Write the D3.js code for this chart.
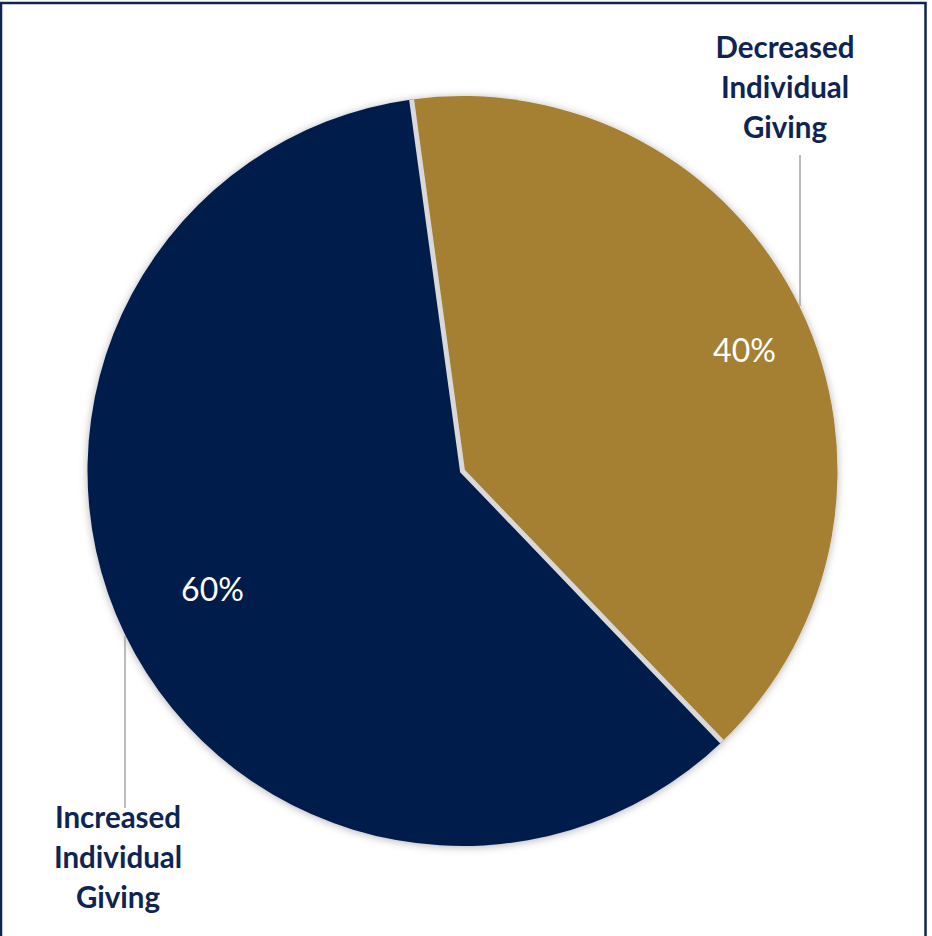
<!DOCTYPE html>
<html>
<head>
<meta charset="utf-8">
<script src="https://cdn.jsdelivr.net/npm/d3@7"></script>
<style>
  html, body { margin: 0; padding: 0; background: #fff; }
  svg { display: block; }
</style>
</head>
<body>
<svg id="chart"></svg>
<script>
// chart data
var categories = ["Decreased Individual Giving", "Increased Individual Giving"];
var values = [40, 60];
var pct_labels = ["40%", "60%"];
var colors = ["#A57F32", "#001C4C"];

var width = 932, height = 936;
var cx = 462.5, cy = 471, radius = 375;
var start = -7.8 * Math.PI / 180;

var svg = d3.select("#chart")
    .attr("width", width)
    .attr("height", height);

// frame border (top, left, right)
svg.append("path")
    .attr("d", "M1,936 V3 H925.5 V936")
    .attr("fill", "none")
    .attr("stroke", "#0e2452")
    .attr("stroke-width", 2.5);

var defs = svg.append("defs");
var shadow = defs.append("filter")
    .attr("id", "shadow")
    .attr("x", "-10%").attr("y", "-10%")
    .attr("width", "120%").attr("height", "120%");
shadow.append("feDropShadow")
    .attr("dx", 0).attr("dy", 1)
    .attr("stdDeviation", 4)
    .attr("flood-color", "#000")
    .attr("flood-opacity", 0.3);

var pie = d3.pie()
    .sort(null)
    .value(function(d){ return d; })
    .startAngle(start)
    .endAngle(start + 2 * Math.PI);

var arcs = pie(values);
var arc = d3.arc().innerRadius(0).outerRadius(radius);

var g = svg.append("g").attr("transform", "translate(" + cx + "," + cy + ")");

g.append("g")
    .attr("filter", "url(#shadow)")
    .selectAll("path")
    .data(arcs)
    .enter().append("path")
    .attr("d", arc)
    .attr("fill", function(d, i){ return colors[i]; });

// separator between slices
function rim(a){ return [Math.sin(a) * radius, -Math.cos(a) * radius]; }
var sep = [rim(arcs[0].startAngle), [0, 0], rim(arcs[0].endAngle)];
g.append("path")
    .attr("d", d3.line()(sep))
    .attr("fill", "none")
    .attr("stroke", "#d9d9d9")
    .attr("stroke-width", 5)
    .attr("stroke-linejoin", "miter");

// percent labels inside slices
var pct_pos = [[282, -122], [-250, 117]];
g.selectAll("text.pct")
    .data(arcs)
    .enter().append("text")
    .attr("class", "pct")
    .attr("x", function(d, i){ return pct_pos[i][0]; })
    .attr("y", function(d, i){ return pct_pos[i][1]; })
    .attr("text-anchor", "middle")
    .attr("dominant-baseline", "central")
    .attr("fill", "#fff")
    .style("font-family", "Lato, sans-serif")
    .style("font-size", "32px")
    .text(function(d, i){ return pct_labels[i]; });

// leader lines
var leaders = [[800, 155, 800, 306], [125, 636, 125, 808]];
svg.selectAll("line.leader")
    .data(leaders)
    .enter().append("line")
    .attr("x1", function(d){ return d[0]; })
    .attr("y1", function(d){ return d[1]; })
    .attr("x2", function(d){ return d[2]; })
    .attr("y2", function(d){ return d[3]; })
    .attr("stroke", "#a6a6a6")
    .attr("stroke-width", 1.5);

// category labels
var label_pos = [[785, 46], [118, 816]];
var lines = [["Decreased", "Individual", "Giving"], ["Increased", "Individual", "Giving"]];
categories.forEach(function(c, i){
    var t = svg.append("text")
        .attr("text-anchor", "middle")
        .attr("fill", "#0e2452")
        .style("font-family", "Lato, sans-serif")
        .style("font-weight", "bold")
        .style("font-size", "29.5px");
    lines[i].forEach(function(w, j){
        t.append("tspan")
            .attr("x", label_pos[i][0])
            .attr("y", label_pos[i][1] + j * 40)
            .attr("dominant-baseline", "central")
            .text(w);
    });
});
</script>
</body>
</html>
